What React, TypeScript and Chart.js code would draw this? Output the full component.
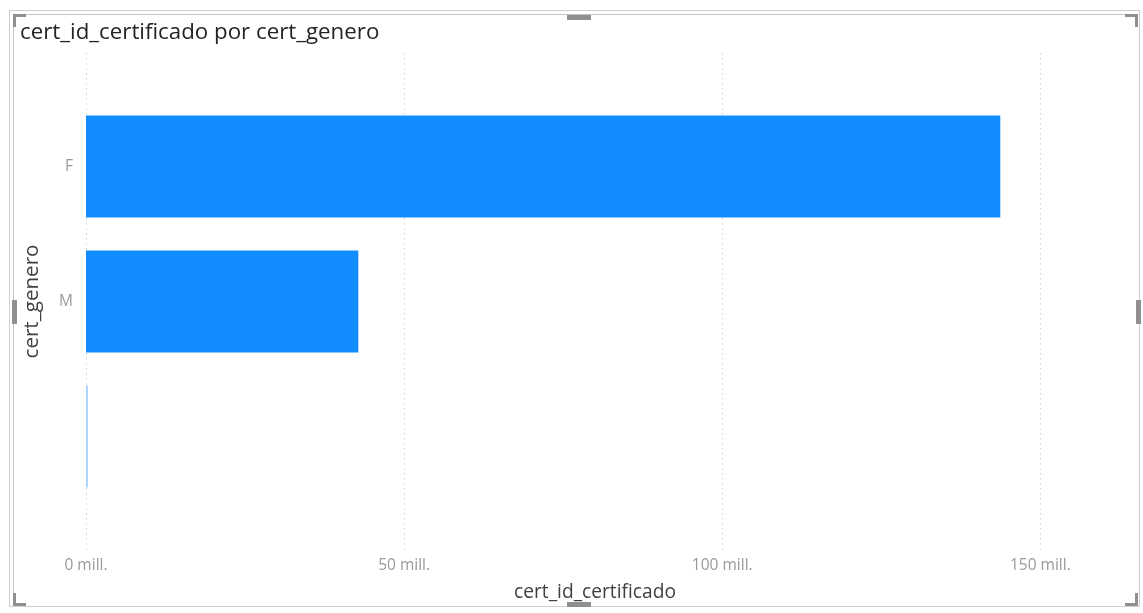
import React, { useEffect, useRef } from "react";
import { Chart, registerables } from "chart.js";

Chart.register(...registerables);

const chartTitle = "cert_id_certificado por cert_genero";
const categories = ["F", "M", ""];
const values = [143.7e6, 42.8e6, 0.3e6];
const barColors = ["#118DFF", "#118DFF", "#A9D4FF"];
const xTickValues = [0, 50e6, 100e6, 150e6];
const xAxisMax = 160e6;
const xAxisTitle = "cert_id_certificado";
const yAxisTitle = "cert_genero";

const FONT = "'Open Sans', 'Liberation Sans', sans-serif";

const extendedGrid = {
  id: "extendedGrid",
  beforeDatasetsDraw(chart: any) {
    const { ctx, chartArea, scales } = chart;
    const x = scales.x;
    const y = scales.y;
    const band = Math.abs(y.getPixelForValue(1) - y.getPixelForValue(0));
    const ext = band * 0.34;
    ctx.save();
    ctx.strokeStyle = "#d4d4d4";
    ctx.lineWidth = 1;
    ctx.setLineDash([1.5, 3.5]);
    x.ticks.forEach((t: any) => {
      const px = Math.round(x.getPixelForValue(t.value)) + 0.5;
      ctx.beginPath();
      ctx.moveTo(px, chartArea.top - ext);
      ctx.lineTo(px, chartArea.bottom + ext);
      ctx.stroke();
    });
    ctx.restore();
  },
};

function ChartView() {
  const ref = useRef<HTMLCanvasElement | null>(null);
  useEffect(() => {
    if (!ref.current) return;
    const chart = new Chart(ref.current, {
      type: "bar",
      data: {
        labels: categories,
        datasets: [
          {
            data: values,
            backgroundColor: barColors,
            borderWidth: 0,
            barPercentage: 0.755,
            categoryPercentage: 1,
          },
        ],
      },
      plugins: [extendedGrid],
      options: {
        indexAxis: "y",
        animation: false,
        responsive: false,
        maintainAspectRatio: false,
        layout: { padding: { left: 0, right: 39, top: 99, bottom: 0 } },
        plugins: {
          legend: { display: false },
          tooltip: { enabled: false },
          title: { display: false },
        },
        scales: {
          x: {
            type: "linear",
            min: 0,
            max: xAxisMax,
            afterBuildTicks: (scale: any) => {
              scale.ticks = xTickValues.map((v) => ({ value: v }));
            },
            afterFit: (scale: any) => {
              scale.height = 109;
            },
            border: { display: false },
            grid: { display: false, drawTicks: false },
            ticks: {
              padding: 52,
              color: "#9a9a9a",
              font: { family: FONT, size: 15.5 },
              callback: (v: any) => `${Math.round(Number(v) / 1e6)} mill.`,
            },
            title: {
              display: true,
              text: xAxisTitle,
              color: "#404040",
              font: { family: FONT, size: 19.2 },
              padding: { top: 0, bottom: 9 },
            },
          },
          y: {
            type: "category",
            offset: true,
            afterFit: (scale: any) => {
              scale.width = 86;
            },
            border: { display: false },
            grid: { display: false, drawTicks: false },
            ticks: {
              padding: 13,
              color: "#9a9a9a",
              font: { family: FONT, size: 15.5 },
            },
            title: {
              display: true,
              text: yAxisTitle,
              color: "#404040",
              font: { family: FONT, size: 20.6 },
              padding: { top: 20, bottom: 0 },
            },
          },
        },
      },
    } as any);
    return () => chart.destroy();
  }, []);
  return (
    <canvas
      ref={ref}
      width={1143}
      height={613}
      style={{ position: "absolute", left: 0, top: 0, width: 1143, height: 613 }}
    />
  );
}

const handle = (style: React.CSSProperties) => (
  <div style={{ position: "absolute", background: "#8f8f8f", ...style }} />
);

export default function App() {
  return (
    <div
      style={{
        position: "fixed",
        left: 0,
        top: 0,
        width: 1143,
        height: 613,
        background: "#ffffff",
        overflow: "hidden",
      }}
    >
      <div
        style={{
          position: "absolute",
          left: 9,
          top: 10,
          width: 1131,
          height: 597,
          border: "1px solid #cfcfcf",
          boxSizing: "border-box",
        }}
      />
      <div
        style={{
          position: "absolute",
          left: 13,
          top: 14,
          width: 1124,
          height: 592,
          border: "1px solid #c4c4c4",
          borderRight: "none",
          borderBottom: "none",
          boxSizing: "border-box",
        }}
      />
      <ChartView />
      <div
        style={{
          position: "absolute",
          left: 20,
          top: 18,
          fontFamily: FONT,
          fontSize: 22.3,
          color: "#252423",
          whiteSpace: "nowrap",
          lineHeight: "26px",
        }}
      >
        {chartTitle}
      </div>
      {handle({ left: 13, top: 14, width: 13, height: 3 })}
      {handle({ left: 13, top: 14, width: 3, height: 13 })}
      {handle({ left: 1125, top: 14, width: 13, height: 3 })}
      {handle({ left: 1135, top: 14, width: 3, height: 13 })}
      {handle({ left: 13, top: 603, width: 13, height: 3 })}
      {handle({ left: 13, top: 593, width: 3, height: 13 })}
      {handle({ left: 1125, top: 603, width: 13, height: 3 })}
      {handle({ left: 1135, top: 593, width: 3, height: 13 })}
      {handle({ left: 567, top: 15, width: 24, height: 5 })}
      {handle({ left: 567, top: 602, width: 24, height: 5 })}
      {handle({ left: 12, top: 300, width: 5, height: 24 })}
      {handle({ left: 1136, top: 300, width: 5, height: 24 })}
    </div>
  );
}
